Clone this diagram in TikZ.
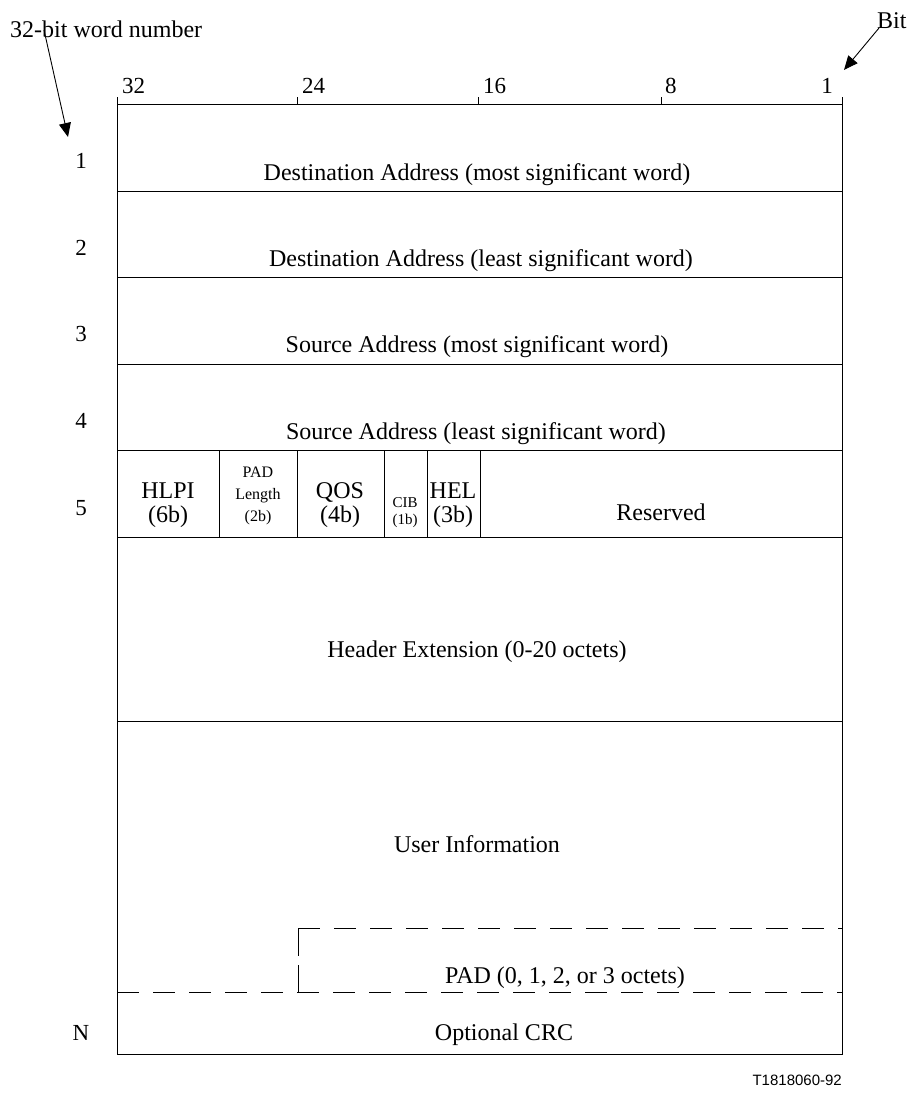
\documentclass[tikz,border=0pt]{standalone}
\usepackage{fontspec}
\setmainfont{Liberation Serif}
\newfontfamily\figsans{Liberation Sans}
\usetikzlibrary{arrows.meta}

\begin{document}
\begin{tikzpicture}[x=1pt, y=-1pt,
  %% --- Text styles ---
  fieldtext/.style={font=\fontsize{24}{28}\selectfont, inner sep=0pt, anchor=base},
  bitnum/.style={font=\fontsize{23}{27}\selectfont, inner sep=0pt, anchor=base west},
  wordnum/.style={font=\fontsize{23}{27}\selectfont, inner sep=0pt, anchor=base},
  subfield/.style={font=\fontsize{24}{24}\selectfont, align=center, inner sep=0pt},
  smallfield/.style={font=\fontsize{16}{22}\selectfont, align=center, inner sep=0pt},
  figid/.style={font=\figsans\fontsize{15}{18}\selectfont, inner sep=0pt, anchor=base east},
  %% --- Line styles ---
  frameline/.style={line width=1pt, draw=black},
  padline/.style={line width=1pt, dash pattern=on 22pt off 14pt},
  pointer/.style={-{Triangle[length=14pt, width=12pt]}, line width=0.9pt}
]
\useasboundingbox (0,0) rectangle (908,1106);

%% =========================================================
%% FRAME, WORD SEPARATORS, BIT TICKS
%% =========================================================
\draw[frameline] (117,97) -- (117,1054) -- (842,1054) -- (842,97);
\draw[frameline] (117,104) -- (842,104);
\foreach \tx in {297,478,661}
  \draw[frameline] (\tx,97) -- (\tx,104);
\foreach \ry in {191,277,364,450,537,721}
  \draw[frameline] (117,\ry) -- (842,\ry);

%% word 5 sub-fields
\foreach \fx in {219,297,384,427,480}
  \draw[frameline] (\fx,450) -- (\fx,537);

%% PAD area
\draw[padline] (298,928) -- (842,928);
\draw[padline] (117,992) -- (842,992);
\draw[padline, dash pattern=on 28pt off 9pt] (298,928) -- (298,992);

%% =========================================================
%% BIT NUMBERS AND WORD NUMBERS
%% =========================================================
\node (b32) [bitnum] at (122,93) {32};
\node (b24) [bitnum] at (302,93) {24};
\node (b16) [bitnum] at (483,93) {16};
\node (b8)  [bitnum] at (665,93) {8};
\node (b1)  [bitnum, anchor=base east] at (833,93) {1};

\node (w1) [wordnum] at (81,168) {1};
\node (w2) [wordnum] at (81,255) {2};
\node (w3) [wordnum] at (81,341) {3};
\node (w4) [wordnum] at (81,428) {4};
\node (w5) [wordnum] at (81,515) {5};
\node (wN) [wordnum] at (81,1040) {N};

%% =========================================================
%% FIELD TEXTS
%% =========================================================
\node (dstMsw) [fieldtext] at (477,180) {Destination Address (most significant word)};
\node (dstLsw) [fieldtext] at (481,266) {Destination Address (least significant word)};
\node (srcMsw) [fieldtext] at (477,352) {Source Address (most significant word)};
\node (srcLsw) [fieldtext] at (476,439) {Source Address (least significant word)};

\node (hlpi)   [subfield]   at (168,505) {HLPI\\(6b)};
\node (padLen) [smallfield] at (258,496) {PAD\\Length\\(2b)};
\node (qos)    [subfield]   at (340,505) {QOS\\(4b)};
\node (cib)    [smallfield, font=\fontsize{15}{17}\selectfont] at (405,513) {CIB\\(1b)};
\node (hel)    [subfield]   at (453,505) {HEL\\(3b)};
\node (rsvd)   [fieldtext]  at (661,520) {Reserved};

\node (hdrExt) [fieldtext] at (477,657) {Header Extension (0-20 octets)};
\node (usrInf) [fieldtext] at (477,852) {User Information};
\node (pad)    [fieldtext] at (565,983) {PAD (0, 1, 2, or 3 octets)};
\node (crc)    [fieldtext] at (504,1040) {Optional CRC};

%% =========================================================
%% CORNER LABELS AND POINTERS
%% =========================================================
\node (wordLbl) [fieldtext, anchor=base west] at (10,37) {32-bit word number};
\node (bitLbl)  [fieldtext, anchor=base west] at (877,28) {Bit};
\node (figNo)   [figid] at (842,1085) {T1818060-92};

\coordinate (wordTail) at (44,30);
\coordinate (wordTip)  at (68,137);
\coordinate (bitTail)  at (879,28);
\coordinate (bitTip)   at (844,70);

\draw[pointer] (wordTail) -- (wordTip);
\draw[pointer] (bitTail) -- (bitTip);

\end{tikzpicture}
\end{document}
